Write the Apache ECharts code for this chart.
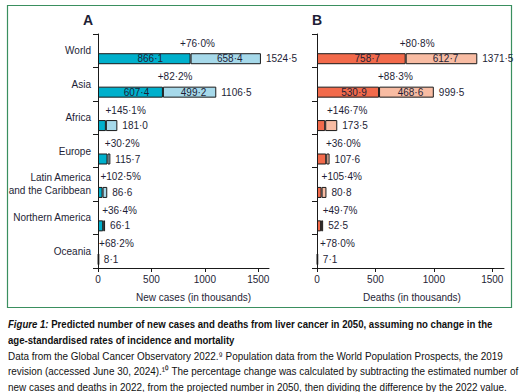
<!DOCTYPE html>
<html><head><meta charset="utf-8">
<script src="https://cdn.jsdelivr.net/npm/echarts@6/dist/echarts.min.js"></script>
<style>html,body{margin:0;padding:0;background:#fff}#c{width:520px;height:392px}</style>
</head><body><div id="c"></div>
<script>
// ---- data ----
const regions = ['World', 'Asia', 'Africa', 'Europe', 'Latin America\nand the Caribbean', 'Northern America', 'Oceania'];
const casesBase2022 = [866.1, 607.4, 73.8, 88.9, 42.8, 48.5, 4.8];
const casesIncrease = [658.4, 499.2, 107.2, 26.8, 43.8, 17.6, 3.3];
const casesTotal2050 = [1524.5, 1106.5, 181.0, 115.7, 86.6, 66.1, 8.1];
const casesPct = ['+76·0%', '+82·2%', '+145·1%', '+30·2%', '+102·5%', '+36·4%', '+68·2%'];
const deathsBase2022 = [758.7, 530.9, 70.3, 79.1, 39.3, 35.1, 4.0];
const deathsIncrease = [612.7, 468.6, 103.2, 28.5, 41.5, 17.4, 3.1];
const deathsTotal2050 = [1371.5, 999.5, 173.5, 107.6, 80.8, 52.5, 7.1];
const deathsPct = ['+80·8%', '+88·3%', '+146·7%', '+36·0%', '+105·4%', '+49·7%', '+78·0%'];
const xTicks = [0, 500, 1000, 1500];
const captionTitle = ['Figure 1:', ' Predicted number of new cases and deaths from liver cancer in 2050, assuming no change in the', 'age-standardised rates of incidence and mortality'];
const captionBody = [
  'Data from the Global Cancer Observatory 2022.\u2079 Population data from the World Population Prospects, the 2019',
  'revision (accessed June 30, 2024).\u00b9\u2070 The percentage change was calculated by subtracting the estimated number of',
  'new cases and deaths in 2022, from the projected number in 2050, then dividing the difference by the 2022 value.'
];

const FONT = '"Liberation Sans", Arimo, sans-serif';
const TXT = '#1e1e36';
const FS = 10;
const fmt = v => v.toFixed(1).replace('.', '·');

const chart = echarts.init(document.getElementById('c'), null, {renderer: 'svg'});

function panel(idx, base, inc, tot, pct, dark, light, pctShift) {
  const common = {type: 'bar', xAxisIndex: idx, yAxisIndex: idx, barGap: '0%', barCategoryGap: '0%'};
  const inside = (arr) => arr.map(v => ({value: v, label: {show: v > 300}}));
  return [
    Object.assign({}, common, {
      name: 'pct' + idx, barWidth: 16, data: tot,
      itemStyle: {color: 'rgba(0,0,0,0)'},
      label: {show: true, position: 'inside', offset: [pctShift, -2], color: TXT, fontSize: FS, fontFamily: FONT,
        formatter: p => pct[p.dataIndex]}
    }),
    Object.assign({}, common, {
      name: 'base' + idx, stack: 's' + idx, barWidth: 11, data: inside(base),
      itemStyle: {color: dark, borderColor: '#1a1a1a', borderWidth: 1},
      label: {position: 'inside', color: TXT, fontSize: FS, fontFamily: FONT, offset: [6, 0], formatter: p => fmt(p.value)}
    }),
    Object.assign({}, common, {
      name: 'inc' + idx, stack: 's' + idx, barWidth: 11, data: inside(inc),
      itemStyle: {color: light, borderColor: '#1a1a1a', borderWidth: 1},
      label: {position: 'inside', color: TXT, fontSize: FS, fontFamily: FONT, offset: [4, 0], formatter: p => fmt(p.value)}
    }),
    Object.assign({}, common, {
      name: 'end' + idx, stack: 's' + idx, barWidth: 11, data: tot.map(() => 0),
      itemStyle: {color: 'rgba(0,0,0,0)', borderWidth: 0},
      label: {show: true, position: 'right', distance: 5, color: TXT, fontSize: FS, fontFamily: FONT,
        formatter: p => fmt(tot[p.dataIndex])}
    })
  ];
}

function xAxis(idx, name, namePad) {
  return {
    type: 'value', gridIndex: idx, min: 0, max: 1600, interval: 500,
    name: name, nameLocation: 'middle', nameGap: 24,
    nameTextStyle: {color: TXT, fontSize: FS, fontFamily: FONT, padding: namePad},
    splitLine: {show: false},
    axisLine: {show: true, lineStyle: {color: '#1a1a1a', width: 1}},
    axisTick: {show: true, length: 4, customValues: xTicks, lineStyle: {color: '#1a1a1a'}},
    axisLabel: {customValues: xTicks, color: TXT, fontSize: FS, fontFamily: FONT, margin: 6, formatter: v => String(v)}
  };
}
function yAxis(idx, showLabels) {
  return {
    type: 'category', gridIndex: idx, data: regions, inverse: true,
    axisLine: {show: true, lineStyle: {color: '#1a1a1a', width: 1}},
    axisTick: {show: true, length: 5, lineStyle: {color: '#1a1a1a'}},
    axisLabel: {show: showLabels, color: TXT, fontSize: FS, fontFamily: FONT, margin: 7, lineHeight: 13, align: 'right'}
  };
}

// measure caption widths to condense them to the reference's line lengths
const ctx = document.createElement('canvas').getContext('2d');
function measure(font, text) { ctx.font = font; return ctx.measureText(text).width; }
const CFS = 11.5;
const titleW = measure('italic bold ' + CFS + 'px ' + FONT, captionTitle[0]) + measure('bold ' + CFS + 'px ' + FONT, captionTitle[1]);
const titleScale = 485 / titleW;
const bodyScale = 495 / measure(CFS + 'px ' + FONT, captionBody[0]);

chart.setOption({
  animation: false,
  grid: [
    {left: 98, top: 34, width: 171, height: 234},
    {left: 317, top: 34, width: 187, height: 234}
  ],
  xAxis: [xAxis(0, 'New cases (in thousands)', [0, 0, 0, 20]), xAxis(1, 'Deaths (in thousands)', [0, 0, 0, 3])],
  yAxis: [yAxis(0, true), yAxis(1, false)],
  series: [].concat(
    panel(0, casesBase2022, casesIncrease, casesTotal2050, casesPct, '#00b0cc', '#a6d9ea', 18),
    panel(1, deathsBase2022, deathsIncrease, deathsTotal2050, deathsPct, '#f26a4b', '#f8bca3', 20)
  ),
  graphic: [
    {type: 'rect', shape: {x: 7.5, y: 5.5, width: 504, height: 302}, style: {fill: 'none', stroke: '#3a8f5f', lineWidth: 1.2}, z: -1},
    {type: 'text', x: 83, y: 13, style: {text: 'A', font: 'bold 14px ' + FONT, fill: TXT}},
    {type: 'text', x: 312, y: 13, style: {text: 'B', font: 'bold 14px ' + FONT, fill: TXT}},
    {type: 'text', x: 8, y: 316, scaleX: titleScale, style: {
      text: '{i|' + captionTitle[0] + '}{b|' + captionTitle[1] + '}\n{b|' + captionTitle[2] + '}',
      rich: {
        i: {fontStyle: 'italic', fontWeight: 'bold', fontSize: CFS, fontFamily: FONT, fill: '#111', lineHeight: 16},
        b: {fontWeight: 'bold', fontSize: CFS, fontFamily: FONT, fill: '#111', lineHeight: 16}
      }}},
    {type: 'text', x: 8, y: 347.5, scaleX: bodyScale, style: {
      text: captionBody.join('\n'),
      font: CFS + 'px ' + FONT, fill: '#111', lineHeight: 15.5}}
  ]
});
</script></body></html>
